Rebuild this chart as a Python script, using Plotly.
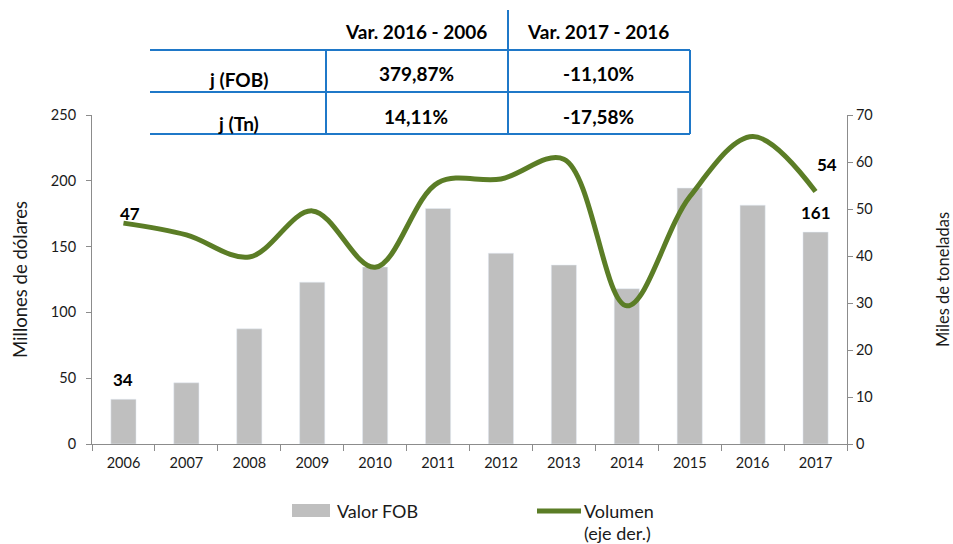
import plotly.graph_objects as go

years = ["2006", "2007", "2008", "2009", "2010", "2011", "2012", "2013", "2014", "2015", "2016", "2017"]
valor_fob = [34, 46.5, 87.5, 123, 134.5, 179, 145, 136, 118, 194.5, 181.5, 161]
volumen = [47, 44.5, 39.8, 49.6, 37.6, 55.6, 56.4, 60.6, 29.4, 52.6, 65.4, 53.7]

table_cols = ["Var. 2016 - 2006", "Var. 2017 - 2016"]
table_rows = ["j (FOB)", "j (Tn)"]
table_vals = [["379,87%", "-11,10%"], ["14,11%", "-17,58%"]]

W, H = 953, 544
L, R, T, B = 92, 847, 115, 444
FONT = "Lato"
BLUE = "#1F78C8"
GREEN = "#5B7D26"
GRAY_BAR = "#BFBFBF"
AXIS = "#8C8C8C"
TXT = "#1A1A1A"


def px(xp):
    return (xp - L) / (R - L)


def py(yp):
    return (B - yp) / (B - T)


fig = go.Figure()
fig.add_trace(go.Bar(x=years, y=valor_fob, marker_color=GRAY_BAR, name="Valor FOB",
                     yaxis="y", showlegend=False))
fig.add_trace(go.Scatter(x=years, y=volumen, mode="lines", name="Volumen (eje der.)",
                         line=dict(color=GREEN, width=5, shape="spline", smoothing=1.0),
                         yaxis="y2", showlegend=False))

annotations = []
lab = dict(showarrow=False, font=dict(family=FONT, size=17, color="#000000", weight="bold"))
last = len(years) - 1
annotations.append(dict(x=0, y=valor_fob[0], xref="x", yref="y", text=f"{valor_fob[0]:.0f}",
                        yshift=20, **lab))
annotations.append(dict(x=last, y=valor_fob[-1], xref="x", yref="y", text=f"{valor_fob[-1]:.0f}",
                        yshift=20, **lab))
annotations.append(dict(x=0, y=volumen[0], xref="x", yref="y2", text=f"{volumen[0]:.0f}",
                        yshift=10, xshift=7, **lab))
annotations.append(dict(x=last, y=volumen[-1], xref="x", yref="y2", text=f"{volumen[-1]:.0f}",
                        yshift=27, xshift=11, **lab))

# table
shapes = []
tline = dict(color=BLUE, width=2)
for yy in (50, 92, 134):
    shapes.append(dict(type="line", xref="paper", yref="paper", x0=px(150), x1=px(690),
                       y0=py(yy), y1=py(yy), line=tline))
shapes.append(dict(type="line", xref="paper", yref="paper", x0=px(326), x1=px(326),
                   y0=py(50), y1=py(134), line=tline))
shapes.append(dict(type="line", xref="paper", yref="paper", x0=px(508), x1=px(508),
                   y0=py(10), y1=py(134), line=tline))
shapes.append(dict(type="line", xref="paper", yref="paper", x0=px(690), x1=px(690),
                   y0=py(50), y1=py(134), line=tline))

tf = dict(showarrow=False, xref="paper", yref="paper", xanchor="center", yanchor="middle",
          font=dict(family=FONT, size=19, color="#000000", weight="bold"))
col_x = [416, 598]
for j, c in enumerate(table_cols):
    annotations.append(dict(x=px(col_x[j]), y=py(31), text=c, **tf))
row_y = [(79, 74), (123, 117)]
for i, r in enumerate(table_rows):
    annotations.append(dict(x=px(238), y=py(row_y[i][0]), text=r, **tf))
    for j in range(2):
        annotations.append(dict(x=px(col_x[j]), y=py(row_y[i][1]), text=table_vals[i][j], **tf))

# legend (manual)
shapes.append(dict(type="rect", xref="paper", yref="paper", x0=px(292), x1=px(330),
                   y0=py(517), y1=py(504), fillcolor=GRAY_BAR, line=dict(width=0)))
shapes.append(dict(type="line", xref="paper", yref="paper", x0=px(537), x1=px(581),
                   y0=py(511), y1=py(511), line=dict(color=GREEN, width=5)))
lf = dict(showarrow=False, xref="paper", yref="paper", xanchor="left", yanchor="middle",
          font=dict(family=FONT, size=18, color=TXT))
annotations.append(dict(x=px(335), y=py(511), text="Valor FOB", **lf))
annotations.append(dict(x=px(582), y=py(511), text="Volumen", **lf))
annotations.append(dict(x=px(582), y=py(533), text="(eje der.)", **lf))

tickfont = dict(family=FONT, size=14.5, color=TXT)
fig.update_layout(
    width=W, height=H,
    margin=dict(l=L, r=W - R, t=T, b=H - B, pad=0, autoexpand=False),
    paper_bgcolor="white", plot_bgcolor="white",
    bargap=0.6,
    font=dict(family=FONT),
    xaxis=dict(type="category", range=[-0.5, last + 0.5], showgrid=False, showline=True,
               linecolor=AXIS, linewidth=1, automargin=False,
               ticks="outside", ticklen=6, tickcolor=AXIS, tickson="boundaries",
               tickfont=tickfont, zeroline=False, tickangle=0, ticklabelstandoff=6),
    yaxis=dict(range=[0, 250], tickvals=[0, 50, 100, 150, 200, 250], showgrid=False,
               showline=True, linecolor=AXIS, linewidth=1, ticks="outside", ticklen=5,
               tickcolor=AXIS, tickfont=tickfont, zeroline=False, ticklabelstandoff=7,
               automargin=False,
               title=dict(text="Millones de dólares", font=dict(family=FONT, size=18.5, color=TXT),
                          standoff=18)),
    yaxis2=dict(range=[0, 70], tickvals=[0, 10, 20, 30, 40, 50, 60, 70], overlaying="y", side="right",
                showgrid=False, showline=True, linecolor=AXIS, linewidth=1, ticks="outside",
                ticklen=5, tickcolor=AXIS, tickfont=tickfont, zeroline=False, automargin=False,
                title=dict(text="Miles de toneladas", font=dict(family=FONT, size=16.5, color=TXT),
                           standoff=75)),
    shapes=shapes,
    annotations=annotations,
)

fig.write_html("out.html", config={"displayModeBar": False},
               post_script="document.body.style.margin='0';")
